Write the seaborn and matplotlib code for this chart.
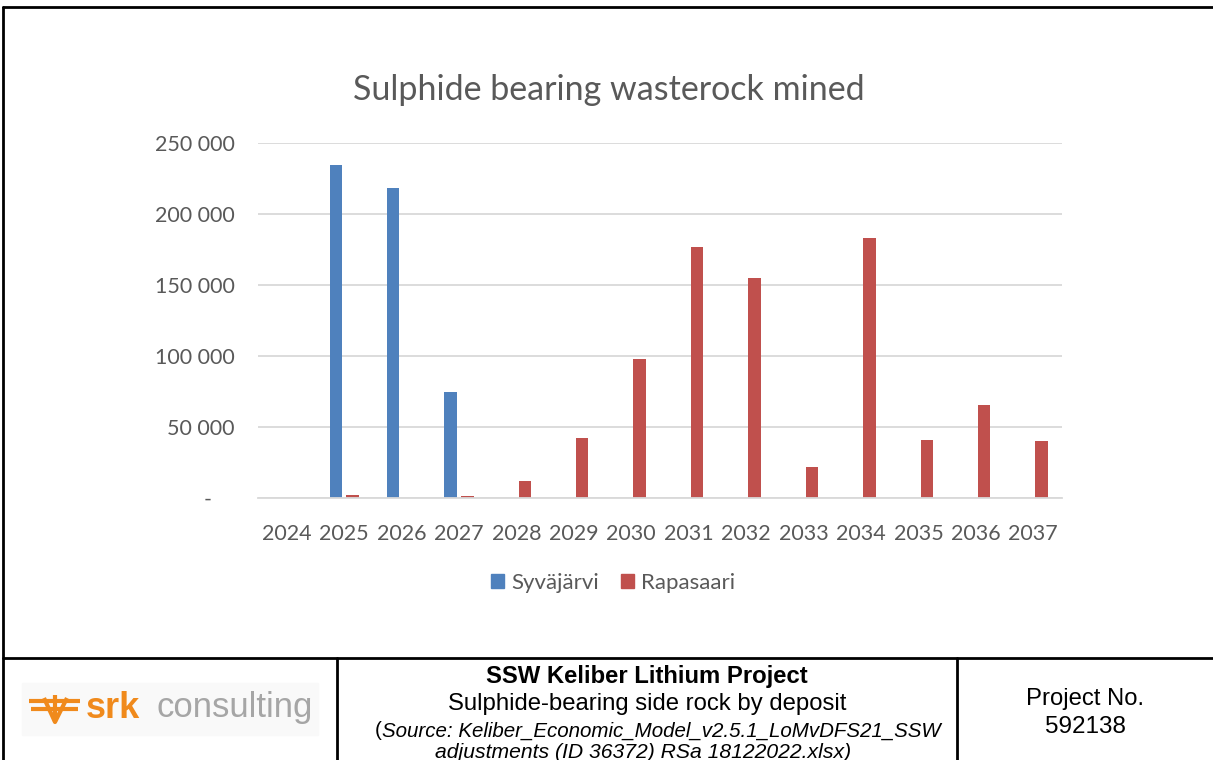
import matplotlib
matplotlib.use("Agg")
import matplotlib.pyplot as plt
from matplotlib.lines import Line2D
from matplotlib.ticker import FuncFormatter, MultipleLocator
import seaborn as sns
import pandas as pd

# Annual sulphide-bearing waste rock mined (t) per deposit
years = ["2024", "2025", "2026", "2027", "2028", "2029", "2030",
         "2031", "2032", "2033", "2034", "2035", "2036", "2037"]
syvajarvi = [0, 234500, 218000, 74500, 0, 0, 0, 0, 0, 0, 0, 0, 0, 0]
rapasaari = [0, 2200, 0, 1400, 12200, 42000, 98000, 176500, 155000,
             22000, 183000, 41000, 65500, 40000]
deposits = ["Syväjärvi", "Rapasaari"]
colors = ["#4F81BD", "#C0504D"]

title = "Sulphide bearing wasterock mined"
caption_title = "SSW Keliber Lithium Project"
caption_sub = "Sulphide-bearing side rock by deposit"
caption_src1 = "Source: Keliber_Economic_Model_v2.5.1_LoMvDFS21_SSW"
caption_src2 = "adjustments (ID 36372) RSa 18122022.xlsx)"
project_label = "Project No."
project_no = "592138"

df = pd.DataFrame({
    "Year": years * 2,
    "Tonnes": syvajarvi + rapasaari,
    "Deposit": [deposits[0]] * len(years) + [deposits[1]] * len(years),
})

sns.set_theme(style="white")
plt.rcParams["font.family"] = ["Lato", "DejaVu Sans"]

W, H = 1213, 760
fig = plt.figure(figsize=(W / 100, H / 100), dpi=100)
fig.patch.set_facecolor("white")


def fx(x):
    return x / W


def fy(y):
    return 1 - y / H


ax = fig.add_axes([fx(258), fy(498), fx(1062) - fx(258), fy(143) - fy(498)])
sns.barplot(data=df, x="Year", y="Tonnes", hue="Deposit", palette=colors,
            saturation=1, width=0.58, gap=0.25, linewidth=0, ax=ax,
            legend=False)

grey = "#595959"
ax.set_ylim(0, 250000)
ax.set_xlim(-0.5, len(years) - 0.5)
ax.yaxis.set_major_locator(MultipleLocator(50000))
ax.yaxis.set_major_formatter(FuncFormatter(
    lambda v, p: "-    " if v == 0 else f"{int(v):,}".replace(",", " ")))
ax.grid(axis="y", color="#D9D9D9", linewidth=1.3)
ax.set_axisbelow(True)
for s in ["top", "right", "left"]:
    ax.spines[s].set_visible(False)
ax.spines["bottom"].set_color("#D9D9D9")
ax.spines["bottom"].set_linewidth(1.3)
ax.tick_params(axis="both", length=0, labelsize=15.5, labelcolor=grey)
ax.tick_params(axis="y", pad=17)
ax.tick_params(axis="x", pad=19)
ax.set_xlabel("")
ax.set_ylabel("")

fig.text(fx(609), fy(90), title, ha="center", va="center",
         fontsize=24.5, color=grey)

handles = [plt.Rectangle((0, 0), 1, 1, color=c) for c in colors]
fig.legend(handles, deposits, loc="center", bbox_to_anchor=(fx(613), fy(583)),
           ncol=2, frameon=False, fontsize=16, labelcolor=grey,
           handlelength=0.6, handleheight=0.6, handletextpad=0.3,
           columnspacing=1.0)

# Frame and caption table
lk = dict(color="black", linewidth=2, transform=fig.transFigure)
fig.add_artist(Line2D([fx(3), fx(3)], [fy(7), 0], **lk))
fig.add_artist(Line2D([fx(3), 1], [fy(7), fy(7)], **lk))
fig.add_artist(Line2D([fx(3), 1], [fy(658), fy(658)], **lk))
fig.add_artist(Line2D([fx(337), fx(337)], [fy(658), 0], **lk))
fig.add_artist(Line2D([fx(957), fx(957)], [fy(658), 0], **lk))

# srk consulting logo
fig.add_artist(plt.Rectangle((fx(22), fy(735)), fx(318) - fx(22), fy(683) - fy(735),
                             transform=fig.transFigure, color="#F9F9F9", zorder=0))
orange = "#F08A1C"
ok = dict(color=orange, linewidth=3, transform=fig.transFigure, solid_capstyle="butt")
fig.add_artist(Line2D([fx(29), fx(80)], [fy(701), fy(701)], **ok))
fig.add_artist(Line2D([fx(31), fx(78)], [fy(709), fy(709)], **ok))
fig.add_artist(Line2D([fx(44), fx(55), fx(67)], [fy(698), fy(722), fy(698)], **ok))
fig.add_artist(Line2D([fx(55), fx(55)], [fy(695), fy(722)], **ok))
fig.text(fx(86), fy(708), "srk", ha="left", va="center", fontsize=26,
         fontweight="bold", color=orange, family=["Liberation Sans"])
fig.text(fx(156), fy(708), "consulting", ha="left", va="center", fontsize=25,
         color="#A6A6A6", family=["Liberation Sans"])

cx = fx(647)
tk = dict(ha="center", va="center", color="black", family=["Liberation Sans"])
fig.text(cx, fy(677), caption_title, fontsize=17.2, fontweight="bold", **tk)
fig.text(cx, fy(704), caption_sub, fontsize=17.2, **tk)

# Source line: upright bracket followed by italic text, centred as a pair
renderer = fig.canvas.get_renderer()
t_par = fig.text(0, fy(731), "(", fontsize=14.8, ha="left", va="center",
                 color="black", family=["Liberation Sans"])
t_src = fig.text(0, fy(731), caption_src1, fontsize=14.8, ha="left", va="center",
                 style="italic", color="black", family=["Liberation Sans"])
w1 = t_par.get_window_extent(renderer).width
w2 = t_src.get_window_extent(renderer).width
x0 = 658 - (w1 + w2) / 2
t_par.set_x(fx(x0))
t_src.set_x(fx(x0 + w1))
fig.text(fx(643), fy(752), caption_src2, fontsize=15.2, style="italic", **tk)

fig.text(fx(1085), fy(699), project_label, fontsize=17.2, **tk)
fig.text(fx(1085), fy(727), project_no, fontsize=17.5, **tk)

fig.savefig("out.png", dpi=100, facecolor="white")
